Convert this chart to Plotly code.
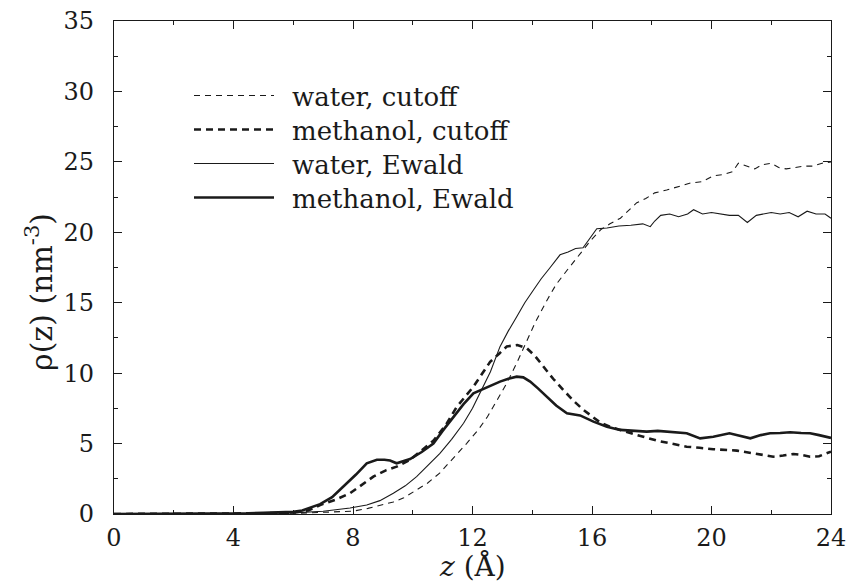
import plotly.graph_objects as go

# Density profiles rho(z) across the interface, z in Angstrom, rho in nm^-3

# water, cutoff
z_water_cut = [0, 2, 4, 5, 6, 6.5, 7, 7.5, 8, 8.5, 9, 9.35, 9.7, 10.1, 10.5, 10.9, 11.3,
               11.8, 12.2, 12.5, 12.8, 13.15, 13.5, 13.8, 14.1, 14.5, 14.8, 15.2, 15.6,
               15.95, 16.3, 16.6, 16.95, 17.25, 17.5, 17.8, 18.1, 18.5, 18.8, 19.3, 19.7,
               20.05, 20.4, 20.7, 20.9, 21.2, 21.45, 21.7, 22.0, 22.25, 22.5, 22.8, 23.1,
               23.4, 23.7, 24.0]
rho_water_cut = [0, 0, 0.02, 0.03, 0.05, 0.08, 0.12, 0.15, 0.2, 0.4, 0.65, 0.85, 1.15, 1.65,
                 2.2, 2.9, 3.8, 5.0, 6.0, 6.9, 8.0, 9.3, 10.8, 12.2, 13.6, 15.2, 16.3, 17.4,
                 18.5, 19.4, 20.2, 20.6, 21.0, 21.6, 22.1, 22.4, 22.8, 23.0, 23.2, 23.5,
                 23.6, 24.0, 24.1, 24.3, 24.9, 24.7, 24.5, 24.8, 24.9, 24.6, 24.5, 24.6,
                 24.7, 24.7, 24.9, 25.0]

# methanol, cutoff
z_meoh_cut = [0, 2, 4, 5, 6, 6.5, 6.9, 7.4, 7.9, 8.3, 8.68, 9.1, 9.46, 9.91, 10.3, 10.69,
              11.1, 11.47, 12.03, 12.3, 12.59, 12.9, 13.15, 13.5, 13.82, 14.1, 14.37, 14.7,
              15.04, 15.4, 15.71, 16.0, 16.27, 16.6, 16.94, 17.5, 18.17, 18.7, 19.17, 19.6,
              20.06, 20.85, 21.5, 22.07, 22.4, 22.74, 23.0, 23.3, 23.6, 24.0]
rho_meoh_cut = [0, 0, 0.03, 0.05, 0.1, 0.25, 0.64, 1.0, 1.47, 2.1, 2.65, 3.1, 3.36, 3.84,
                4.5, 5.2, 6.3, 7.6, 9.04, 9.9, 10.8, 11.4, 11.9, 12.0, 11.77, 11.2, 10.46,
                9.6, 8.8, 8.0, 7.4, 6.9, 6.5, 6.2, 5.97, 5.61, 5.21, 5.0, 4.78, 4.7, 4.6,
                4.5, 4.26, 4.07, 4.15, 4.26, 4.2, 4.07, 4.1, 4.43]

# water, Ewald
z_water_ew = [0, 2, 4, 5, 6, 6.5, 7, 7.35, 7.9, 8.46, 8.9, 9.35, 9.75, 10.13, 10.5, 10.91,
              11.3, 11.7, 12.0, 12.25, 12.6, 12.92, 13.2, 13.48, 13.75, 14.04, 14.3, 14.6,
              14.93, 15.2, 15.45, 15.7, 15.9, 16.16, 16.5, 16.9, 17.3, 17.7, 17.95, 18.1,
              18.3, 18.6, 18.9, 19.2, 19.4, 19.7, 20.0, 20.3, 20.6, 20.9, 21.2, 21.5, 21.8,
              22.0, 22.3, 22.6, 22.9, 23.2, 23.5, 23.8, 24.0]
rho_water_ew = [0, 0, 0.02, 0.04, 0.08, 0.12, 0.2, 0.28, 0.42, 0.64, 0.95, 1.47, 2.0, 2.65,
                3.4, 4.3, 5.3, 6.44, 7.5, 8.57, 10.1, 11.88, 13.0, 14.0, 15.0, 15.9, 16.7,
                17.5, 18.4, 18.6, 18.85, 18.9, 19.5, 20.25, 20.3, 20.45, 20.5, 20.6, 20.4,
                20.8, 21.2, 21.3, 21.1, 21.3, 21.6, 21.3, 21.4, 21.3, 21.2, 21.2, 20.7,
                21.2, 21.3, 21.4, 21.3, 21.4, 21.1, 21.5, 21.3, 21.3, 21.0]

# methanol, Ewald
z_meoh_ew = [0, 1, 2, 3, 4, 4.5, 5, 5.5, 6, 6.3, 6.6, 6.9, 7.3, 7.68, 8.1, 8.46, 8.8, 9.05,
             9.24, 9.46, 9.7, 9.91, 10.3, 10.69, 11.0, 11.36, 11.7, 12.03, 12.48, 12.92,
             13.2, 13.48, 13.7, 13.93, 14.2, 14.49, 14.8, 15.16, 15.6, 16.05, 16.5, 16.94,
             17.4, 17.83, 18.2, 18.6, 19.17, 19.62, 20.06, 20.6, 21.0, 21.3, 21.65, 21.96,
             22.3, 22.63, 23.0, 23.3, 23.6, 24.0]
rho_meoh_ew = [0, 0, 0, 0.02, 0.05, 0.05, 0.08, 0.1, 0.15, 0.25, 0.45, 0.7, 1.2, 1.94, 2.8,
               3.6, 3.85, 3.85, 3.8, 3.6, 3.75, 3.9, 4.4, 5.0, 5.9, 6.9, 7.8, 8.57, 9.0, 9.4,
               9.6, 9.75, 9.7, 9.4, 8.9, 8.33, 7.7, 7.15, 7.0, 6.56, 6.2, 5.97, 5.9, 5.85,
               5.9, 5.85, 5.73, 5.37, 5.49, 5.73, 5.55, 5.37, 5.6, 5.73, 5.75, 5.8, 5.75,
               5.73, 5.6, 5.4]

x_ticks = [0, 4, 8, 12, 16, 20, 24]
y_ticks = [0, 5, 10, 15, 20, 25, 30, 35]

INK = "#1a1a1a"
SERIF = "DejaVu Serif"

series = [
    ("water, cutoff", z_water_cut, rho_water_cut, 1.1, "6px,5px"),
    ("methanol, cutoff", z_meoh_cut, rho_meoh_cut, 2.6, "7px,5px"),
    ("water, Ewald", z_water_ew, rho_water_ew, 1.1, "solid"),
    ("methanol, Ewald", z_meoh_ew, rho_meoh_ew, 2.6, "solid"),
]

# layout geometry in pixels
W, H = 849, 585
L, R, T, B = 114, 18, 21, 71
PW, PH = W - L - R, H - T - B


def px_x(px):
    return (px - L) / PW


def px_y(py):
    return (H - B - py) / PH


fig = go.Figure()
for name, zs, rs, width, dash in series:
    fig.add_trace(go.Scatter(x=zs, y=rs, mode="lines", name=name,
                             line=dict(color=INK, width=width, dash=dash),
                             showlegend=False))

# legend with long sample lines
legend_rows = [95.5, 129.5, 163.5, 197.5]
for (name, _, _, width, dash), ry in zip(series, legend_rows):
    fig.add_shape(type="line", xref="paper", yref="paper",
                  x0=px_x(194), x1=px_x(274), y0=px_y(ry), y1=px_y(ry),
                  line=dict(color=INK, width=width, dash=dash))
    fig.add_annotation(text=name, xref="paper", yref="paper",
                       x=px_x(290), y=px_y(ry + 1.5), xanchor="left", yanchor="middle",
                       showarrow=False, font=dict(family=SERIF, size=26, color=INK))

# axis titles
fig.add_annotation(text="ρ(z) (nm<sup>-3</sup>)", xref="paper", yref="paper",
                   x=px_x(40), y=px_y(292), xanchor="center", yanchor="middle",
                   textangle=-90, showarrow=False,
                   font=dict(family=SERIF, size=30, color=INK))
fig.add_annotation(text="<i>z</i> (Å)", xref="paper", yref="paper",
                   x=0.5, y=px_y(566), xanchor="center", yanchor="middle",
                   showarrow=False, font=dict(family=SERIF, size=28, color=INK))

axis_common = dict(
    showline=True, linecolor=INK, linewidth=1.2, mirror="ticks",
    ticks="inside", ticklen=8, tickwidth=1.2, tickcolor=INK,
    showgrid=False, zeroline=False, automargin=False,
    tickfont=dict(family=SERIF, size=24, color=INK),
    minor=dict(ticks="inside", ticklen=4, tickwidth=1, tickcolor=INK, showgrid=False),
)

fig.update_xaxes(range=[0, 24], tickvals=x_ticks, ticktext=[str(v) for v in x_ticks],
                 minor_dtick=2, minor_tick0=0, ticklabelstandoff=2,
                 **axis_common)
fig.update_yaxes(range=[0, 35], tickvals=y_ticks, ticktext=[str(v) for v in y_ticks],
                 minor_dtick=2.5, minor_tick0=0, ticklabelstandoff=14,
                 **axis_common)

fig.update_layout(width=W, height=H, margin=dict(l=L, r=R, t=T, b=B),
                  paper_bgcolor="white", plot_bgcolor="white", showlegend=False)

fig.write_html("out.html")
